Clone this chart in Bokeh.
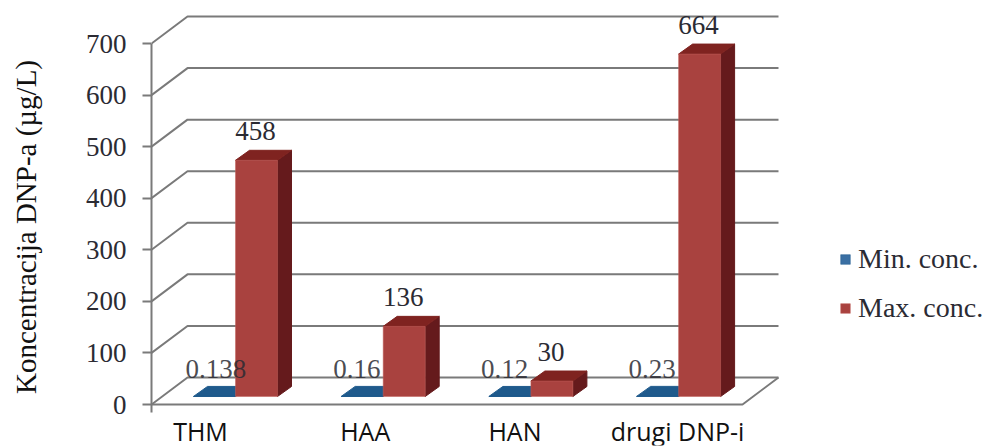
from bokeh.plotting import figure
from bokeh.models import FixedTicker, Legend, LegendItem, Range1d
from bokeh.core.properties import value
from bokeh.embed import file_html
from bokeh.resources import INLINE

categories = ["THM", "HAA", "HAN", "drugi DNP-i"]
min_conc = [0.138, 0.16, 0.12, 0.23]
max_conc = [458, 136, 30, 664]
min_text = ["0.138", "0.16", "0.12", "0.23"]
max_text = ["458", "136", "30", "664"]
y_ticks = [0, 100, 200, 300, 400, 500, 600, 700]
y_title = "Koncentracija DNP-a (µg/L)"

# scale: pixels per data unit, and 3-D depth expressed in pixels
PX_X, PX_Y = 147.7, 0.5157
dx = lambda px: px / PX_X
dy = lambda px: px / PX_Y
n = len(categories)
xs = list(range(n))
W = dx(42)
BASE = dy(8)
DX, DY = dx(14), dy(10)
WALL_X, WALL_Y = dx(36), dy(27)
X0 = dx(152 - 236)
X_FRONT_END = dx(743 - 236)

p = figure(frame_width=832, frame_height=437, output_backend="svg", toolbar_location=None,
           x_range=Range1d(X0, X0 + dx(832)),
           y_range=Range1d(-dy(41), dy(396)),
           min_border_left=151, min_border_right=0, min_border_top=8, min_border_bottom=2,
           background_fill_color="white", border_fill_color="white", outline_line_color=None)
p.grid.visible = False

GRID = "#7a7a7a"
INK = "#2b2b33"

# walls and floor
for v in y_ticks:
    p.line([X0, X0 + WALL_X, X_FRONT_END + WALL_X], [v, v + WALL_Y, v + WALL_Y],
           line_color=GRID, line_width=2)
p.line([X0, X_FRONT_END, X_FRONT_END + WALL_X], [0, 0, WALL_Y], line_color=GRID, line_width=2)

# series
BLUE, BLUE_TOP = "#3a6fa3", "#1f5a8c"
RED, RED_TOP, RED_SIDE = "#a9423f", "#7f2320", "#651a1c"

blue_r = None
for x, v in zip(xs, min_conc):
    top = v + BASE
    p.patch([x - W, x - W + DX, x + DX, x], [top, top + DY, top + DY, top],
            fill_color=BLUE_TOP, line_color=BLUE_TOP)
    blue_r = p.quad(left=[x - W], right=[x], bottom=[BASE], top=[top],
                    fill_color=BLUE, line_color=BLUE_TOP, line_width=0.5)

red_r = None
for x, v in zip(xs, max_conc):
    top = v + BASE
    p.patch([x + W, x + W + DX, x + W + DX, x + W],
            [BASE, BASE + DY, top + DY, top], fill_color=RED_SIDE, line_color=RED_SIDE)
    p.patch([x, x + DX, x + W + DX, x + W], [top, top + DY, top + DY, top],
            fill_color=RED_TOP, line_color=RED_TOP)
    red_r = p.quad(left=[x], right=[x + W], bottom=[BASE], top=[top],
                   fill_color=RED, line_color="#c0605a", line_width=0.5)

# data labels
p.text([x + dx(20) for x in xs], [v + BASE + dy(29) for v in max_conc], text=max_text,
       text_font=value("Liberation Serif"), text_font_size="27px", text_color=INK,
       text_align="center", text_baseline="middle")
p.text([x - dx(50) for x in xs], [v + BASE + dy(27) for v in min_conc], text=min_text,
       text_font=value("Liberation Serif"), text_font_size="27px", text_color=INK,
       text_align="left", text_baseline="middle", text_alpha=0.85)

# axes
ax = p.yaxis[0]
ax.ticker = FixedTicker(ticks=y_ticks)
ax.bounds = (-dy(8), 700)
ax.axis_line_color = GRID
ax.axis_line_width = 2
ax.major_tick_line_color = GRID
ax.major_tick_line_width = 2
ax.major_tick_in = 0
ax.major_tick_out = 9
ax.minor_tick_line_color = None
ax.major_label_text_font = "Liberation Serif"
ax.major_label_text_font_size = "27px"
ax.major_label_text_color = INK
ax.major_label_standoff = 16
ax.axis_label = y_title
ax.axis_label_text_font = "Liberation Serif"
ax.axis_label_text_font_size = "29px"
ax.axis_label_text_font_style = "normal"
ax.axis_label_text_color = "#111111"
ax.axis_label_standoff = 41

label_ticks = [round(dx(s), 3) for s in (-35, -18, -16, -1)]
label_x = [x + s for x, s in zip(xs, label_ticks)]
bx = p.xaxis[0]
bx.fixed_location = -dy(8)
bx.ticker = FixedTicker(ticks=label_x)
bx.major_label_overrides = dict(zip(label_x, categories))
bx.axis_line_color = None
bx.major_tick_line_color = None
bx.minor_tick_line_color = None
bx.major_label_text_font = "Open Sans"
bx.major_label_text_font_size = "25px"
bx.major_label_text_color = "#111111"
bx.major_label_standoff = -5

legend = Legend(items=[LegendItem(label="Min. conc.", renderers=[blue_r]),
                       LegendItem(label="Max. conc.", renderers=[red_r])],
                location=(688, 121), orientation="vertical",
                background_fill_alpha=0, border_line_color=None,
                glyph_width=12, glyph_height=12, label_standoff=7,
                label_text_font="Liberation Serif", label_text_font_size="28px",
                label_text_color=INK, spacing=17, padding=0, margin=0)
p.add_layout(legend, "center")

open("out.html", "w").write(file_html(p, INLINE))
